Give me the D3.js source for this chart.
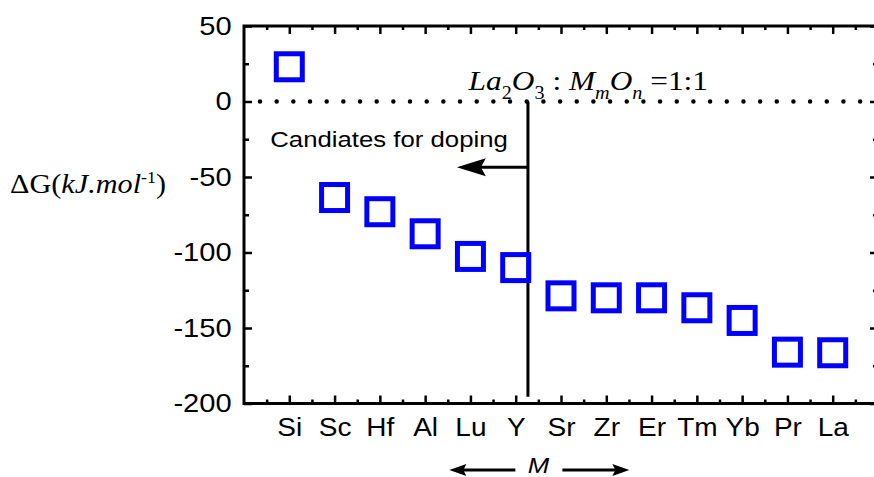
<!DOCTYPE html>
<html>
<head>
<meta charset="utf-8">
<script src="https://cdn.jsdelivr.net/npm/d3@7"></script>
<style>
  body { margin: 0; background: #fff; }
  svg { display: block; }
</style>
</head>
<body>
<div id="chart"></div>
<script>
// categories and values
const metals = ['Si', 'Sc', 'Hf', 'Al', 'Lu', 'Y', 'Sr', 'Zr', 'Er', 'Tm', 'Yb', 'Pr', 'La'];
const deltaG = [23, -63.6, -73, -87.6, -102.6, -110, -128.7, -130, -130, -136.6, -145, -166, -166.4];
const yMajorTicks = [50, 0, -50, -100, -150, -200];
const yMinorTicks = [25, -25, -75, -125, -175];

const width = 874;
const height = 477;
const stretch = 'scale(1.12,1)';
const sans = "'Liberation Sans', Arial, sans-serif";
const serif = "'Liberation Serif', 'Times New Roman', serif";

const xScale = d3.scaleLinear()
  .domain([0, metals.length + 1])
  .range([244, 878]);

const yScale = d3.scaleLinear()
  .domain([-200, 50])
  .range([403.5, 26]);

const xMajor = metals.map((d, i) => i + 1);
const xMinor = d3.range(0.5, metals.length + 1, 1);

const svg = d3.select('#chart').append('svg')
  .attr('width', width).attr('height', height);

svg.append('rect').attr('width', width).attr('height', height).attr('fill', '#fff');

// zero line (dotted)
svg.append('line')
  .attr('x1', xScale(0)).attr('x2', xScale(metals.length + 1))
  .attr('y1', yScale(0)).attr('y2', yScale(0))
  .attr('stroke', '#000')
  .attr('stroke-width', 4.5)
  .attr('stroke-linecap', 'round')
  .attr('stroke-dasharray', '0 16.67')
  .attr('stroke-dashoffset', -16);

// axes - ticks point inward, domain drawn as frame
const tickStyle = g => {
  g.select('.domain').remove();
  g.selectAll('.tick line').attr('stroke', '#000').attr('stroke-width', 2.5);
};

svg.append('g')
  .attr('transform', `translate(0, ${yScale(-200)})`)
  .call(d3.axisBottom(xScale).tickValues(xMajor).tickSize(-8).tickPadding(15)
    .tickFormat(i => metals[i - 1]))
  .call(tickStyle)
  .selectAll('text')
  .attr('transform', stretch)
  .style('font-family', sans).style('font-size', '25px').attr('fill', '#000');

svg.append('g')
  .attr('transform', `translate(0, ${yScale(-200)})`)
  .call(d3.axisBottom(xScale).tickValues(xMinor).tickSize(-4).tickFormat(''))
  .call(tickStyle);

svg.append('g')
  .attr('transform', `translate(0, ${yScale(50)})`)
  .call(d3.axisTop(xScale).tickValues(xMajor).tickSize(-8).tickFormat(''))
  .call(tickStyle);

svg.append('g')
  .attr('transform', `translate(0, ${yScale(50)})`)
  .call(d3.axisTop(xScale).tickValues(xMinor).tickSize(-4).tickFormat(''))
  .call(tickStyle);

svg.append('g')
  .attr('transform', `translate(${xScale(0)}, 0)`)
  .call(d3.axisLeft(yScale).tickValues(yMajorTicks).tickSize(-8).tickPadding(11)
    .tickFormat(d => String(d)))
  .call(tickStyle)
  .selectAll('text')
  .attr('transform', stretch)
  .style('font-family', sans).style('font-size', '26px').attr('fill', '#000');

svg.append('g')
  .attr('transform', `translate(${xScale(0)}, 0)`)
  .call(d3.axisLeft(yScale).tickValues(yMinorTicks).tickSize(-5).tickFormat(''))
  .call(tickStyle);

svg.append('g')
  .attr('transform', `translate(${xScale(metals.length + 1)}, 0)`)
  .call(d3.axisRight(yScale).tickValues(yMajorTicks).tickSize(-8).tickFormat(''))
  .call(tickStyle);

svg.append('g')
  .attr('transform', `translate(${xScale(metals.length + 1)}, 0)`)
  .call(d3.axisRight(yScale).tickValues(yMinorTicks).tickSize(-5).tickFormat(''))
  .call(tickStyle);

// frame
svg.append('rect')
  .attr('x', xScale(0)).attr('y', yScale(50))
  .attr('width', xScale(metals.length + 1) - xScale(0))
  .attr('height', yScale(-200) - yScale(50))
  .attr('fill', 'none').attr('stroke', '#000').attr('stroke-width', 3);

// divider between candidates and the rest
const cut = 6.27;
svg.append('line')
  .attr('x1', xScale(cut)).attr('x2', xScale(cut))
  .attr('y1', yScale(0)).attr('y2', yScale(-195.5))
  .attr('stroke', '#000').attr('stroke-width', 3);

const arrowY = yScale(-43.5);
const tipX = xScale(4.7);
svg.append('line')
  .attr('x1', xScale(cut)).attr('x2', tipX + 20)
  .attr('y1', arrowY).attr('y2', arrowY)
  .attr('stroke', '#000').attr('stroke-width', 3);
svg.append('path')
  .attr('d', `M${tipX},${arrowY} L${tipX + 29},${arrowY - 9} L${tipX + 24},${arrowY} L${tipX + 29},${arrowY + 9} Z`)
  .attr('fill', '#000');

svg.append('text')
  .attr('transform', `translate(${xScale(0.58)}, ${yScale(-30)}) ${stretch}`)
  .style('font-family', sans).style('font-size', '23px')
  .text('Candiates for doping');

// ratio label
const ratio = svg.append('text')
  .attr('transform', `translate(${xScale(4.96)}, ${yScale(7.5)}) ${stretch}`)
  .style('font-family', serif).style('font-size', '28px');
ratio.append('tspan').style('font-style', 'italic').text('La');
ratio.append('tspan').attr('dy', 9).style('font-size', '18px').text('2');
ratio.append('tspan').attr('dy', -9).style('font-style', 'italic').text('O');
ratio.append('tspan').attr('dy', 9).style('font-size', '18px').text('3');
ratio.append('tspan').attr('dy', -9).text('\u00a0:\u00a0');
ratio.append('tspan').style('font-style', 'italic').text('M');
ratio.append('tspan').attr('dy', 9).style('font-style', 'italic').style('font-size', '18px').text('m');
ratio.append('tspan').attr('dy', -9).style('font-style', 'italic').text('O');
ratio.append('tspan').attr('dy', 9).style('font-style', 'italic').style('font-size', '18px').text('n');
ratio.append('tspan').attr('dy', -9).text('\u00a0=1:1');

// y axis label
const yLabel = svg.append('text')
  .attr('transform', `translate(10, 193) ${stretch}`)
  .style('font-family', serif).style('font-size', '27px');
yLabel.append('tspan').text('\u0394G(');
yLabel.append('tspan').style('font-style', 'italic').text('kJ.mol');
yLabel.append('tspan').attr('dy', -10).style('font-size', '16px').text('-1');
yLabel.append('tspan').attr('dy', 10).text(')');

// x axis label with arrows
const mid = xScale(6.5);
const mY = 470;
svg.append('text')
  .attr('transform', `translate(${mid}, 473) ${stretch}`)
  .attr('text-anchor', 'middle')
  .style('font-family', sans).style('font-size', '23px').style('font-style', 'italic')
  .text('M');

[[-23, -89], [24, 91]].forEach(([a, b]) => {
  const dir = Math.sign(b);
  svg.append('line')
    .attr('x1', mid + a).attr('x2', mid + b - dir * 10)
    .attr('y1', mY).attr('y2', mY)
    .attr('stroke', '#000').attr('stroke-width', 3);
  svg.append('path')
    .attr('d', `M${mid + b},${mY} L${mid + b - dir * 17},${mY - 6} L${mid + b - dir * 14},${mY} L${mid + b - dir * 17},${mY + 6} Z`)
    .attr('fill', '#000');
});

// data squares
svg.append('g')
  .selectAll('rect')
  .data(deltaG)
  .join('rect')
  .attr('x', (d, i) => xScale(i + 1) - 13)
  .attr('y', d => yScale(d) - 13)
  .attr('width', 26).attr('height', 26)
  .attr('fill', 'none')
  .attr('stroke', '#0000ff')
  .attr('stroke-width', 5);
</script>
</body>
</html>
